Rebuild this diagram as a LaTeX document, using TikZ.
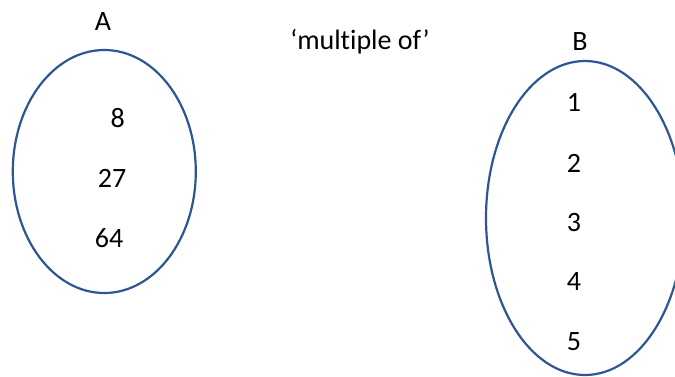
\documentclass[tikz,border=0pt]{standalone}
\usepackage{fontspec}
\setmainfont{Carlito}[Ligatures=NoCommon]
\usetikzlibrary{shapes.geometric}
\definecolor{setblue}{HTML}{2F5597}
\begin{document}
\begin{tikzpicture}[x=1pt,y=-1pt,
  setshape/.style={draw=setblue, line width=2.2pt, ellipse, inner sep=0pt},
  lbl/.style={font=\fontsize{28}{32}\selectfont, inner sep=0pt, text=black}]
\clip (0,0) rectangle (675,376);
\fill[white] (0,0) rectangle (675,376);
\node[setshape, minimum width=183pt, minimum height=243pt] (setA) at (104.3,171.5) {};
\node[setshape, minimum width=198pt, minimum height=314pt] (setB) at (585,218) {};
\node[lbl] (titleA) at (103,22) {A};
\node[lbl] (titleB) at (580,42) {B};
\node[lbl] (rel) at (360,42) {‘multiple of’};
\node[lbl] (a1) at (117.7,118) {8};
\node[lbl] (a2) at (112,178) {27};
\node[lbl] (a3) at (109,238) {64};
\node[lbl] (b1) at (574,102) {1};
\node[lbl] (b2) at (574,163) {2};
\node[lbl] (b3) at (574,223) {3};
\node[lbl] (b4) at (574,282) {4};
\node[lbl] (b5) at (574,342) {5};
\end{tikzpicture}
\end{document}
